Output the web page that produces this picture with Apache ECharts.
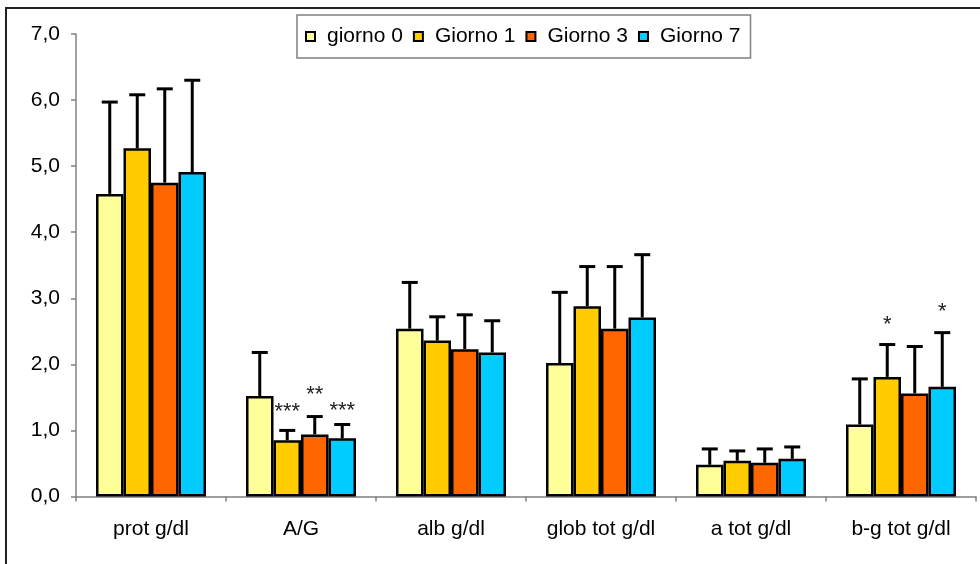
<!DOCTYPE html>
<html>
<head>
<meta charset="utf-8">
<script src="https://cdn.jsdelivr.net/npm/echarts@6/dist/echarts.min.js"></script>
<style>html,body{margin:0;padding:0;background:#fff}#c{width:980px;height:564px}</style>
</head>
<body>
<div id="c"></div>
<script>
const categories = ['prot g/dl', 'A/G', 'alb g/dl', 'glob tot g/dl', 'a tot g/dl', 'b-g tot g/dl'];
const seriesNames = ['giorno 0', 'Giorno 1', 'Giorno 3', 'Giorno 7'];
const yTicks = [0, 1, 2, 3, 4, 5, 6, 7];

const giorno0 = [4.58, 1.52, 2.54, 2.02, 0.48, 1.09];
const giorno1 = [5.27, 0.85, 2.36, 2.88, 0.54, 1.81];
const giorno3 = [4.75, 0.94, 2.23, 2.54, 0.51, 1.56];
const giorno7 = [4.91, 0.88, 2.18, 2.71, 0.57, 1.66];

// upper end of the error bar (mean + SD)
const giorno0Err = [5.97, 2.18, 3.24, 3.09, 0.72, 1.78];
const giorno1Err = [6.08, 1.00, 2.72, 3.48, 0.69, 2.30];
const giorno3Err = [6.17, 1.21, 2.75, 3.48, 0.72, 2.27];
const giorno7Err = [6.30, 1.09, 2.66, 3.66, 0.75, 2.48];

// significance marks and the value level at which they sit
const giorno0Stars = ['', '', '', '', '', ''];
const giorno1Stars = ['', '***', '', '', '', '*'];
const giorno3Stars = ['', '**', '', '', '', ''];
const giorno7Stars = ['', '***', '', '', '', '*'];
const giorno0StarLevel = [0, 0, 0, 0, 0, 0];
const giorno1StarLevel = [0, 1.28, 0, 0, 0, 2.60];
const giorno3StarLevel = [0, 1.54, 0, 0, 0, 0];
const giorno7StarLevel = [0, 1.30, 0, 0, 0, 2.80];

const values = [giorno0, giorno1, giorno3, giorno7];
const errs = [giorno0Err, giorno1Err, giorno3Err, giorno7Err];
const stars = [giorno0Stars, giorno1Stars, giorno3Stars, giorno7Stars];
const starLevels = [giorno0StarLevel, giorno1StarLevel, giorno3StarLevel, giorno7StarLevel];
const colors = ['#FFFF99', '#FFCC00', '#FF6600', '#00CCFF'];

const FONT = '"Liberation Sans", Arial, sans-serif';
const GAP = 0.2667;

const series = [];
seriesNames.forEach((name, i) => {
  series.push({
    name: name,
    type: 'bar',
    data: values[i],
    barGap: '0%',
    barCategoryGap: (GAP * 100) + '%',
    itemStyle: { color: colors[i], borderColor: '#000', borderWidth: 2.5 },
    emphasis: { disabled: true },
    z: 2
  });
});
seriesNames.forEach((name, i) => {
  series.push({
    name: name + ' err',
    type: 'custom',
    z: 3,
    silent: true,
    data: categories.map((c, k) => [k, values[i][k], errs[i][k], starLevels[i][k]]),
    renderItem: function (params, api) {
      const k = api.value(0);
      const catW = api.size([1, 0])[0];
      const barW = catW * (1 - GAP) / 4;
      const base = api.coord([k, api.value(1)]);
      const x = base[0] + (i - 1.5) * barW;
      const yTop = api.coord([k, api.value(2)])[1];
      const children = [
        { type: 'line', shape: { x1: x, y1: base[1], x2: x, y2: yTop }, style: { stroke: '#000', lineWidth: 3 } },
        { type: 'line', shape: { x1: x - 8, y1: yTop, x2: x + 8, y2: yTop }, style: { stroke: '#000', lineWidth: 3 } }
      ];
      const s = stars[i][k];
      if (s) {
        const ys = api.coord([k, api.value(3)])[1];
        children.push({ type: 'text', style: { text: s, x: x, y: ys, align: 'center', verticalAlign: 'middle', font: '22px ' + FONT, fill: '#222' } });
      }
      return { type: 'group', children: children };
    }
  });
});

const chart = echarts.init(document.getElementById('c'), null, { renderer: 'canvas' });
chart.setOption({
  animation: false,
  backgroundColor: '#fff',
  grid: { left: 76, right: 4, top: 34, bottom: 67.5, containLabel: false },
  legend: {
    data: seriesNames,
    left: 297,
    top: 15,
    orient: 'horizontal',
    icon: 'rect',
    itemWidth: 9,
    itemHeight: 9,
    itemGap: 10,
    padding: [11, 10, 11, 8],
    borderColor: '#808080',
    borderWidth: 1.5,
    selectedMode: false,
    textStyle: { fontFamily: FONT, fontSize: 21, color: '#000', padding: [0, 0, 0, 7] },
    itemStyle: { borderColor: '#000', borderWidth: 2 }
  },
  xAxis: {
    type: 'category',
    data: categories,
    axisLine: { lineStyle: { color: '#808080', width: 1.5 } },
    axisTick: { show: true, length: 5, lineStyle: { color: '#808080', width: 1.5 } },
    axisLabel: { fontFamily: FONT, fontSize: 21, color: '#000', margin: 22, interval: 0 },
    splitLine: { show: false }
  },
  yAxis: {
    type: 'value',
    min: yTicks[0],
    max: yTicks[yTicks.length - 1],
    interval: 1,
    axisLine: { show: true, lineStyle: { color: '#808080', width: 1.5 } },
    axisTick: { show: true, length: 5, lineStyle: { color: '#808080', width: 1.5 } },
    axisLabel: { fontFamily: FONT, fontSize: 21, color: '#000', margin: 16, formatter: v => v.toFixed(1).replace('.', ',') },
    splitLine: { show: false }
  },
  graphic: [{
    type: 'rect',
    shape: { x: 6, y: 8, width: 1000, height: 600 },
    style: { fill: 'none', stroke: '#222', lineWidth: 2 },
    silent: true
  }],
  series: series
});
</script>
</body>
</html>
